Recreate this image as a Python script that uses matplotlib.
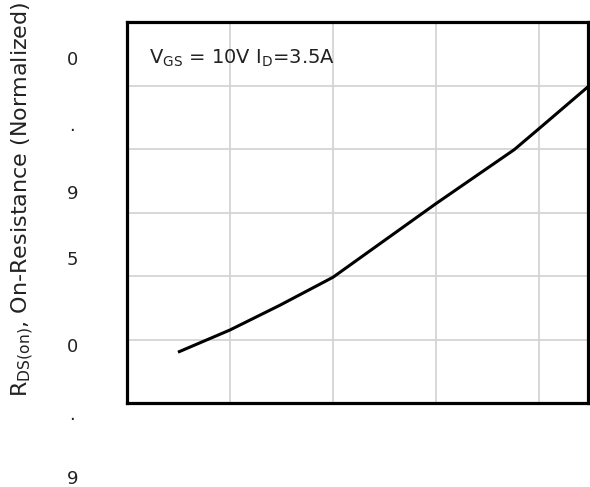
import matplotlib
matplotlib.use("Agg")
import matplotlib.pyplot as plt

plt.rcParams['font.family'] = ['DejaVu Sans']
plt.rcParams['mathtext.fontset'] = 'dejavusans'

# Curve data (grid units)
x_vals = [0.495, 1.0, 1.485, 2.0, 3.0, 3.76, 4.0, 4.476]
r_vals = [0.80, 1.15, 1.54, 1.98, 3.14, 3.99, 4.32, 4.98]

# Grid positions
x_grid = [1, 2, 3, 4]
y_grid = [1, 2, 3, 4, 5]

# Y tick labels (as they appear) and their positions
ytick_labels = ['0', '.', '9', '5', '0', '.', '9']
ytick_pos = [5.33, 4.29, 3.21, 2.17, 0.80, -0.27, -1.27]

ylabel = r'R$_{\mathregular{DS(on)}}$, On-Resistance (Normalized)'
annotation = r'V$_{\mathregular{GS}}$ = 10V I$_{\mathregular{D}}$=3.5A'

W, H = 590, 487
fig = plt.figure(figsize=(W / 100, H / 100), dpi=100)
ax = fig.add_axes([127 / W, (H - 403) / H, (588 - 127) / W, (403 - 22) / H])

ax.set_xlim(0, 4.476)
ax.set_ylim(0, 6)
for gx in x_grid:
    ax.axvline(gx, color='#d4d4d4', lw=1.3, zorder=1)
for gy in y_grid:
    ax.axhline(gy, color='#d4d4d4', lw=1.3, zorder=1)

ax.plot(x_vals, r_vals, color='black', lw=2.2, zorder=3, solid_capstyle='butt')

ax.set_xticks([])
ax.set_yticks([])
for s in ax.spines.values():
    s.set_linewidth(2.3)
    s.set_color('black')

trans = ax.get_yaxis_transform()
for lab, pos in zip(ytick_labels, ytick_pos):
    ax.text(-0.119, pos, lab, transform=trans, ha='center', va='baseline',
            fontsize=13, color='#222222', clip_on=False)

ax.text((149 - 127) / 461, (403 - 64) / 381, annotation, transform=ax.transAxes,
        ha='left', va='baseline', fontsize=14, color='#222222')

fig.text(23 / W, (H - 397) / H, ylabel, rotation=90, ha='center', va='bottom',
         fontsize=16, color='#222222')

fig.savefig('out.png', dpi=100, facecolor='white')
